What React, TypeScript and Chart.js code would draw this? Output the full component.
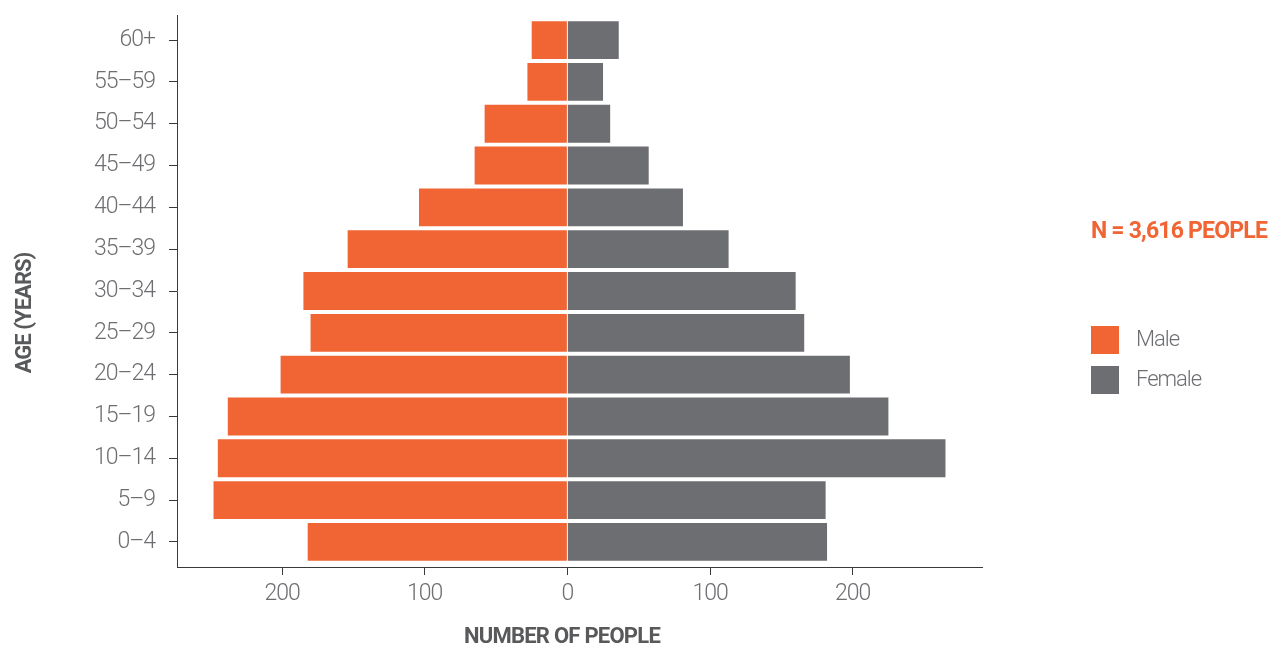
import React, { useEffect, useRef } from "react";
import { Chart, registerables } from "chart.js";

Chart.register(...registerables);

const ageGroups = ["0–4", "5–9", "10–14", "15–19", "20–24", "25–29", "30–34", "35–39", "40–44", "45–49", "50–54", "55–59", "60+"];
const maleCounts = [182, 248, 245, 238, 201, 180, 185, 154, 104, 65, 58, 28, 25];
const femaleCounts = [182, 181, 265, 225, 198, 166, 160, 113, 81, 57, 30, 25, 36];
const xTickValues = [-200, -100, 0, 100, 200];
const seriesLabels = ["Male", "Female"];
const seriesColors = ["#F16434", "#6D6E71"];
const totalLabel = "N = 3,616 PEOPLE";
const xTitle = "NUMBER OF PEOPLE";
const yTitle = "AGE (YEARS)";

const FONT = 'Roboto, "Liberation Sans", sans-serif';
const TEXT_GRAY = "#6D6E71";
const TITLE_GRAY = "#58595B";
const AXIS = "#3a3a3a";

const condensePlugin = {
  id: "condense",
  beforeDraw(chart: any) {
    (chart.ctx as any).letterSpacing = "-1px";
  },
};

const overlayPlugin = {
  id: "overlay",
  afterDraw(chart: any) {
    const ctx = chart.ctx as any;
    ctx.save();
    // y title
    ctx.fillStyle = TITLE_GRAY;
    ctx.font = `bold 22px ${FONT}`;
    ctx.letterSpacing = "-1px";
    ctx.textAlign = "center";
    ctx.textBaseline = "middle";
    ctx.save();
    ctx.translate(25, 313);
    ctx.rotate(-Math.PI / 2);
    ctx.fillText(yTitle, 0, 0);
    ctx.restore();
    // x title
    ctx.letterSpacing = "-0.75px";
    ctx.fillText(xTitle, 562, 637);
    // N label
    ctx.textAlign = "left";
    ctx.fillStyle = seriesColors[0];
    ctx.font = `bold 23px ${FONT}`;
    ctx.letterSpacing = "-0.8px";
    ctx.fillText(totalLabel, 1091, 232);
    // legend
    ctx.font = `300 22px ${FONT}`;
    ctx.letterSpacing = "-1px";
    chart.data.datasets.forEach((ds: any, i: number) => {
      const top = 326 + i * 40;
      ctx.fillStyle = ds.backgroundColor;
      ctx.fillRect(1091, top, 28, 28);
      ctx.fillStyle = TEXT_GRAY;
      ctx.fillText(ds.label, 1136, top + 14);
    });
    ctx.restore();
  },
};

export default function App() {
  const canvasRef = useRef<HTMLCanvasElement | null>(null);

  useEffect(() => {
    document.body.style.margin = "0";
    const canvas = canvasRef.current;
    if (!canvas) return;
    const chart = new Chart(canvas, {
      type: "bar",
      data: {
        datasets: [
          {
            label: seriesLabels[0],
            data: maleCounts.map((v, i) => ({ x: -v, y: i })),
            backgroundColor: seriesColors[0],
            stack: "s",
          },
          {
            label: seriesLabels[1],
            data: femaleCounts.map((v, i) => ({ x: v, y: i })),
            backgroundColor: seriesColors[1],
            stack: "s",
          },
        ],
      },
      options: {
        indexAxis: "y",
        animation: false,
        responsive: true,
        maintainAspectRatio: false,
        barPercentage: 0.905,
        categoryPercentage: 1,
        layout: { padding: { top: 15, right: 290, left: 0, bottom: 0 } },
        plugins: {
          legend: { display: false },
          tooltip: { enabled: false },
        },
        scales: {
          x: {
            type: "linear",
            stacked: true,
            min: -273.6,
            max: 290.6,
            afterBuildTicks: (scale: any) => {
              scale.ticks = xTickValues.map((v) => ({ value: v }));
            },
            afterFit: (scale: any) => {
              scale.height = 81;
              scale.paddingLeft = 0;
              scale.paddingRight = 0;
            },
            ticks: {
              callback: (v: any) => String(Math.abs(Number(v))),
              font: { family: FONT, size: 23, weight: "300" },
              color: TEXT_GRAY,
              padding: 5,
              maxRotation: 0,
            },
            grid: { drawOnChartArea: false, drawTicks: true, tickLength: 8, color: AXIS },
            border: { display: true, color: AXIS, width: 1 },
          },
          y: {
            type: "linear",
            stacked: true,
            offset: false,
            min: -0.6,
            max: 12.6,
            afterBuildTicks: (scale: any) => {
              scale.ticks = ageGroups.map((_, i) => ({ value: i }));
            },
            afterFit: (scale: any) => {
              scale.width = 177;
              scale.paddingTop = 0;
              scale.paddingBottom = 0;
            },
            ticks: {
              callback: (v: any) => ageGroups[Number(v)] ?? "",
              font: { family: FONT, size: 23, weight: "300" },
              color: TEXT_GRAY,
              padding: 14,
            },
            grid: { offset: false, drawOnChartArea: false, drawTicks: true, tickLength: 8, color: AXIS },
            border: { display: true, color: AXIS, width: 1 },
          },
        },
      },
      plugins: [condensePlugin, overlayPlugin],
    });
    return () => chart.destroy();
  }, []);

  return (
    <div style={{ position: "relative", width: 1272, height: 648 }}>
      <canvas ref={canvasRef} />
    </div>
  );
}
